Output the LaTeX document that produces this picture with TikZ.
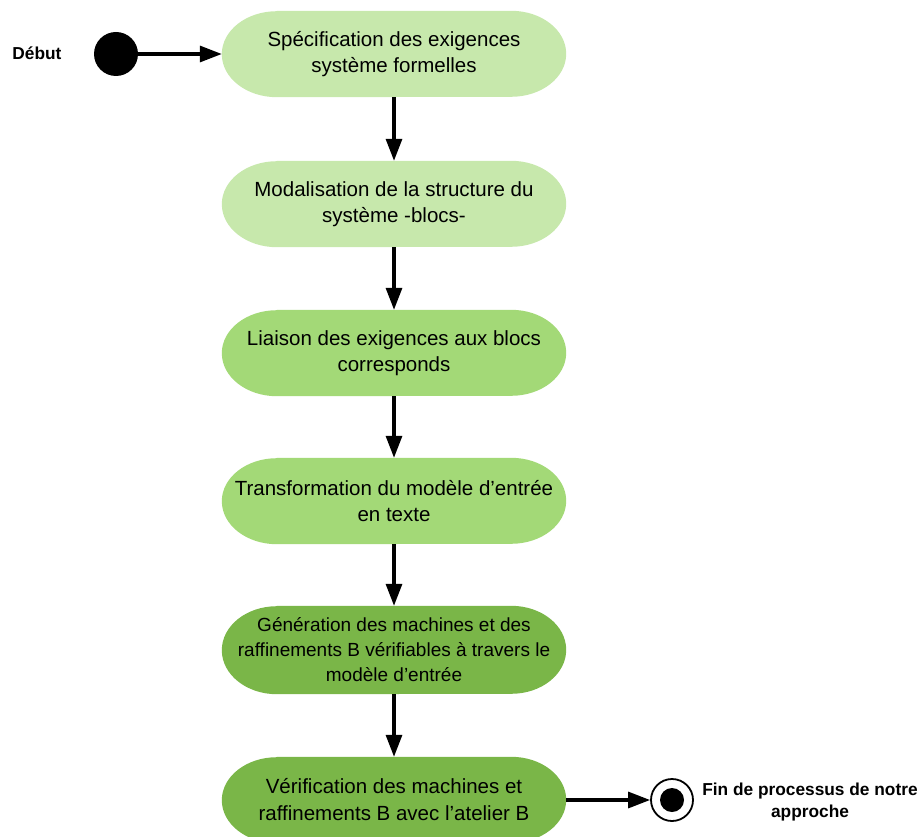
\documentclass[tikz,border=0pt]{standalone}
\usepackage{fontspec}
\setmainfont{Liberation Sans}
\usetikzlibrary{arrows.meta,backgrounds}
\definecolor{gA}{HTML}{C7E8AC}
\definecolor{gB}{HTML}{A3D977}
\definecolor{gC}{HTML}{7AB648}
\newcommand\myblob[3]{%
  \fill[#2] ([xshift=55pt]#1.north west) -- ([xshift=-55pt]#1.north east)
    arc[start angle=90, end angle=-90, x radius=55pt, y radius=#3pt]
    -- ([xshift=55pt]#1.south west)
    arc[start angle=270, end angle=90, x radius=55pt, y radius=#3pt] -- cycle;}
\begin{document}
\begin{tikzpicture}[x=1pt,y=-1pt,
  stepbox/.style={rectangle, minimum width=344pt, minimum height=86pt, align=center, inner sep=0pt, font=\fontsize{20.5}{26}\selectfont},
  flow/.style={line width=3.2pt, -{Triangle[length=22pt,width=16pt]}},
  lbl/.style={font=\bfseries\fontsize{17.3}{22}\selectfont, align=center}]
\useasboundingbox (0,0) rectangle (920,837);
\node[stepbox] (b1) at (394,54) {Spécification des exigences\\système formelles};
\node[stepbox] (b2) at (394,204) {Modalisation de la structure du\\système -blocs-};
\node[stepbox] (b3) at (394,353) {Liaison des exigences aux blocs\\corresponds};
\node[stepbox] (b4) at (394,501) {Transformation du modèle d’entrée\\en texte};
\node[stepbox, minimum height=88pt, font=\fontsize{19}{25}\selectfont] (b5) at (394,650) {Génération des machines et des\\raffinements B vérifiables à travers le\\modèle d’entrée};
\node[stepbox, font=\fontsize{20.5}{27}\selectfont] (b6) at (394,800) {Vérification des machines et\\raffinements B avec l’atelier B};
\begin{scope}[on background layer]
\clip (0,0) rectangle (920,837);
\myblob{b1}{gA}{43}
\myblob{b2}{gA}{43}
\myblob{b3}{gB}{43}
\myblob{b4}{gB}{43}
\myblob{b5}{gC}{44}
\myblob{b6}{gC}{43}
\end{scope}
\node[circle, fill=black, minimum size=44pt, inner sep=0pt] (start) at (116,54) {};
\node[lbl] (startlbl) at (37,53) {Début};
\node[circle, draw=black, line width=1.8pt, fill=white, minimum size=42pt, inner sep=0pt] (endo) at (672,800) {};
\node[circle, fill=black, minimum size=24pt, inner sep=0pt] (endi) at (endo.center) {};
\node[lbl] (endlbl) at (810,802) {Fin de processus de notre\\approche};
\draw[flow] (start) -- (b1.west);
\draw[flow] (b1.south) -- (b2.north);
\draw[flow] (b2.south) -- (b3.north);
\draw[flow] (b3.south) -- (b4.north);
\draw[flow] (b4.south) -- (b5.north);
\draw[flow] (b5.south) -- (b6.north);
\draw[flow] (b6.east) -- (endo.west);
\end{tikzpicture}
\end{document}
